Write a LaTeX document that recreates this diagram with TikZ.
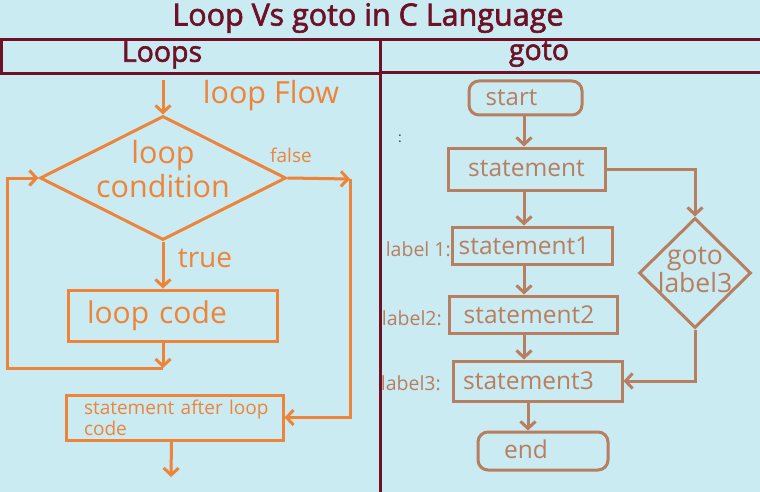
\documentclass[tikz,border=0pt]{standalone}
\usepackage{fontspec}
\setmainfont{Open Sans}
\newfontfamily\headfont{Open Sans}[BoldFont=Open Sans, BoldFeatures={FakeBold=2}]
\usepackage{xcolor}
\usetikzlibrary{positioning,arrows.meta,shapes.geometric,calc}

\definecolor{paper}{RGB}{201,235,241}
\definecolor{maroon}{RGB}{110,16,38}
\definecolor{loopor}{RGB}{238,132,58}
\definecolor{gotobr}{RGB}{184,126,96}

\begin{document}
\begin{tikzpicture}[
    x=1pt, y=-1pt,
    >={Straight Barb[length=7pt,width=15pt]},
    title/.style  = {text=maroon, font=\headfont\bfseries\fontsize{30.5}{32}\selectfont},
    colhead/.style= {text=maroon, font=\headfont\bfseries\fontsize{28.5}{30}\selectfont},
    rule/.style   = {draw=maroon, line width=3pt},
    % loops side
    lline/.style  = {draw=loopor, line width=3pt},
    larr/.style   = {lline, ->},
    ltext/.style  = {text=loopor, inner sep=0pt, align=center},
    lbox/.style   = {rectangle, lline, inner ysep=0pt, align=left},
    lcond/.style  = {diamond, lline, minimum width=246pt, minimum height=124pt,
                     inner sep=0pt},
    % goto side
    gline/.style  = {draw=gotobr, line width=3pt},
    garr/.style   = {gline, ->},
    gtext/.style  = {text=gotobr, inner sep=0pt, align=center},
    gbox/.style   = {rectangle, gline, inner sep=0pt,
                     font=\fontsize{24.5}{26}\selectfont, text=gotobr},
    gterm/.style  = {gbox, rounded corners=10pt},
    gcond/.style  = {diamond, gline, minimum width=112pt, minimum height=110pt,
                     inner sep=0pt},
    tag/.style    = {gtext, font=\fontsize{19.5}{21}\selectfont},
]

% background and frame
\fill[paper] (0,0) rectangle (760,492);
\useasboundingbox (0,0) rectangle (760,492);

\node[title] (T) at (368,18) {Loop Vs goto in C Language};
\draw[rule] (0,40) -- (760,40);
\draw[rule] (0,74) -- (380,74);
\draw[rule] (380,73) -- (760,73);
\draw[rule] (1,40) -- (1,74);
\draw[rule] (380,40) -- (380,492);
\node[colhead] (HL) at (162,55) {Loops};
\node[colhead] (HG) at (539,54) {goto};

% =============================== Loops ===============================
\coordinate (in)   at (163,80);
\coordinate (fr)   at (350,179);
\coordinate (back) at (163,368);
\coordinate (lb)   at (7,368);
\coordinate (out)  at (171,477);

\node[ltext, font=\fontsize{30.5}{32}\selectfont] (flow) at (271,96) {loop Flow};
\node[lcond, label={[ltext, font=\fontsize{30.5}{34}\selectfont, yshift=9pt]center:{loop\\condition}}]
     (cond) at (163,178) {};
\node[ltext, font=\fontsize{19}{20}\selectfont] (false) at (291,155) {false};
\node[ltext, font=\fontsize{28}{30}\selectfont] (true) at (205,258) {true};
\node[lbox, minimum width=209pt, minimum height=51pt, text width=171pt,
      inner xsep=19pt, text=loopor, font=\fontsize{30}{32}\selectfont]
     (code) at (172.5,315.5) {loop code};
\node[lbox, minimum width=217pt, minimum height=45pt, text width=181pt,
      inner xsep=18pt, text=loopor, font=\fontsize{19}{21}\selectfont]
     (after) at (174.5,417.5) {\mbox{statement after loop}\\code};

\draw[larr] (in) -- (cond.north);
\draw[larr] (cond.east) -- (fr);
\draw[larr] (fr) |- (after.east);
\draw[larr] (cond.south) -- (cond.south |- code.north);
\draw[larr] (code.south -| back) -- (back);
\draw[larr] (back) -- (lb) |- (cond.west);
\draw[larr] ([xshift=-3pt]after.south) -- (out);

% =============================== goto ================================
\coordinate (spine) at (524,0);

\node[gterm, minimum width=113pt, minimum height=34pt, font=\fontsize{24}{26}\selectfont]
     (start) at (525.5,98) {\hspace*{-28pt}start};
\node[gbox, minimum width=157pt, minimum height=42pt] (stmt) at (526.5,169)
     {\raisebox{-2pt}{statement}};
\node[gbox, minimum width=160pt, minimum height=37pt] (s1) at (532,245.5)
     {\hspace*{-16pt}statement1};
\node[gbox, minimum width=168pt, minimum height=37pt] (s2) at (533,314.5)
     {\hspace*{-8pt}statement2};
\node[gbox, minimum width=169pt, minimum height=40pt] (s3) at (537.5,381)
     {\hspace*{-18pt}statement3};
\node[gterm, minimum width=130pt, minimum height=38pt] (end) at (543,451)
     {\hspace*{-34pt}\raisebox{3pt}{end}};
\node[gcond, label={[gtext, font=\fontsize{26.5}{28}\selectfont, yshift=3pt]center:{goto\\label3}}]
     (jump) at (695,273) {};

\node[tag, anchor=east] (l1) at (451,249) {label 1:};
\node[tag, anchor=east] (l2) at (442,318) {label2:};
\node[tag, anchor=east] (l3) at (441,383) {label3:};
\node[gtext, text=black!75, font=\fontsize{14}{14}\selectfont] (dot) at (400,139) {:};

\draw[garr] (start.south -| spine) -- (stmt.north -| spine);
\draw[garr] (stmt.south -| spine) -- (s1.north -| spine);
\draw[garr] (s1.south -| spine) -- (s2.north -| spine);
\draw[garr] (s2.south -| spine) -- (s3.north -| spine);
\draw[garr] ([xshift=4pt]s3.south -| spine) -- ([xshift=4pt]end.north -| spine);
\draw[garr] (stmt.east) -| (jump.north);
\draw[garr] (jump.south) |- (s3.east);

\end{tikzpicture}
\end{document}
